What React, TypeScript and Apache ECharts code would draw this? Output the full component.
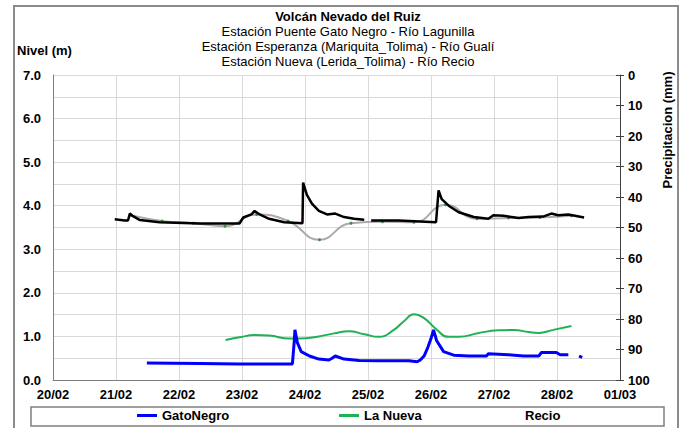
import React, { useEffect, useRef } from "react";
import * as echarts from "echarts";

const DAY_LABELS = ["20/02", "21/02", "22/02", "23/02", "24/02", "25/02", "26/02", "27/02", "28/02", "01/03"];

// time in days after 20/02 00:00
const gatoT = [1.49, 2.33, 2.96, 3.43, 3.8, 3.83, 3.84, 3.88, 3.94, 4.07, 4.22, 4.38, 4.43, 4.48, 4.62, 4.86, 5.17, 5.65, 5.78, 5.83, 5.89, 5.95, 6.0, 6.04, 6.09, 6.2, 6.36, 6.6, 6.88, 6.91, 7.23, 7.47, 7.71, 7.75, 7.99, 8.05, 8.18, 8.26, 8.35, 8.4];
const gatoV = [0.39, 0.38, 0.37, 0.37, 0.37, 0.9, 1.15, 0.85, 0.65, 0.55, 0.48, 0.46, 0.5, 0.55, 0.48, 0.45, 0.44, 0.44, 0.42, 0.46, 0.55, 0.75, 0.95, 1.15, 0.9, 0.65, 0.57, 0.55, 0.55, 0.6, 0.58, 0.55, 0.55, 0.63, 0.63, 0.58, 0.58, null, 0.55, 0.52];

const nuevaT = [2.74, 2.96, 3.2, 3.43, 3.75, 3.91, 4.22, 4.46, 4.7, 4.94, 5.17, 5.41, 5.57, 5.73, 5.89, 6.08, 6.28, 6.44, 6.76, 7.07, 7.31, 7.55, 7.71, 7.94, 8.23];
const nuevaV = [0.92, 0.98, 1.03, 1.02, 0.95, 0.95, 1.0, 1.07, 1.12, 1.05, 0.99, 1.15, 1.35, 1.51, 1.42, 1.17, 0.99, 0.99, 1.08, 1.14, 1.15, 1.1, 1.08, 1.15, 1.24];

const recioT = [0.98, 1.14, 1.19, 1.22, 1.27, 1.38, 1.69, 2.33, 2.96, 3.02, 3.15, 3.2, 3.28, 3.43, 3.67, 3.96, 3.97, 4.03, 4.11, 4.22, 4.35, 4.48, 4.62, 4.78, 4.94, 5.0, 5.05, 5.49, 6.08, 6.12, 6.17, 6.28, 6.44, 6.68, 6.91, 6.99, 7.15, 7.39, 7.55, 7.78, 7.91, 8.02, 8.18, 8.43];
const recioV = [3.69, 3.66, 3.66, 3.82, 3.76, 3.67, 3.62, 3.59, 3.59, 3.73, 3.8, 3.88, 3.8, 3.7, 3.62, 3.6, 4.53, 4.25, 4.05, 3.88, 3.8, 3.82, 3.74, 3.7, 3.68, null, 3.66, 3.66, 3.62, 4.35, 4.15, 4.0, 3.85, 3.74, 3.7, 3.78, 3.77, 3.72, 3.74, 3.75, 3.82, 3.78, 3.8, 3.73];

const trendT = [1.23, 1.73, 2.23, 2.73, 3.23, 3.73, 4.23, 4.73, 5.23, 5.73, 6.23, 6.73, 7.23, 7.73, 8.23];
const trendV = [3.78, 3.65, 3.6, 3.53, 3.8, 3.65, 3.22, 3.6, 3.63, 3.62, 4.02, 3.7, 3.72, 3.73, 3.77];

const FONT = "'Liberation Sans', Arial, sans-serif";

const pairs = (t: number[], v: (number | null)[]) => t.map((x, i) => [x, v[i]]);

export default function App() {
  const ref = useRef<HTMLDivElement>(null);
  useEffect(() => {
    if (!ref.current) return;
    const chart = echarts.init(ref.current, null, { renderer: "svg" });
    const legendBase = {
      top: 404,
      icon: "rect",
      itemWidth: 20,
      itemHeight: 3,
      itemGap: 5,
      selectedMode: false,
      textStyle: { color: "#000", fontWeight: "bold", fontSize: 13, fontFamily: FONT },
    };
    chart.setOption({
      animation: false,
      backgroundColor: "#fff",
      textStyle: { fontFamily: FONT },
      title: {
        left: 343,
        textAlign: "center",
        top: 5,
        text: "Volcán Nevado del Ruiz",
        textStyle: { fontSize: 13, fontWeight: "bold", color: "#000", fontFamily: FONT },
        subtext:
          "Estación Puente Gato Negro - Río Lagunilla\nEstación Esperanza (Mariquita_Tolima) - Río Gualí\nEstación Nueva (Lerida_Tolima) - Río Recio",
        subtextStyle: { fontSize: 13, color: "#000", lineHeight: 15, fontFamily: FONT },
        itemGap: 1,
      },
      grid: { left: 53, right: 65, top: 75, bottom: 48 },
      xAxis: {
        type: "value",
        min: 0,
        max: 9,
        interval: 1,
        axisLine: { show: true, lineStyle: { color: "#7f7f7f", width: 1 } },
        axisTick: { show: false },
        splitLine: { show: true, lineStyle: { color: "#d9d9d9", width: 1 } },
        axisLabel: {
          formatter: (v: number) => DAY_LABELS[Math.round(v)] ?? "",
          color: "#000",
          fontWeight: "bold",
          fontSize: 13,
          margin: 8,
          fontFamily: FONT,
        },
      },
      yAxis: [
        {
          type: "value",
          min: 0,
          max: 7,
          interval: 1,
          position: "left",
          axisLine: { show: true, lineStyle: { color: "#7f7f7f", width: 1 } },
          axisTick: { show: false },
          minorTick: { show: false, splitNumber: 2 },
          minorSplitLine: { show: true, lineStyle: { color: "#d9d9d9", width: 1 } },
          splitLine: { show: true, lineStyle: { color: "#d9d9d9", width: 1 } },
          axisLabel: {
            formatter: (v: number) => v.toFixed(1),
            color: "#000",
            fontWeight: "bold",
            fontSize: 13,
            margin: 12,
            fontFamily: FONT,
          },
        },
        {
          type: "value",
          min: 0,
          max: 100,
          interval: 10,
          inverse: true,
          position: "right",
          axisLine: { show: true, lineStyle: { color: "#404040", width: 1 } },
          axisTick: { show: true, inside: false, length: 4, lineStyle: { color: "#404040" } },
          splitLine: { show: false },
          axisLabel: {
            color: "#000",
            fontWeight: "bold",
            fontSize: 13,
            margin: 8,
            fontFamily: FONT,
          },
        },
        {
          type: "value",
          min: 0,
          max: 100,
          interval: 10,
          inverse: true,
          position: "right",
          axisLine: { show: false },
          axisTick: { show: true, inside: true, length: 4, lineStyle: { color: "#404040" } },
          splitLine: { show: false },
          axisLabel: { show: false },
        },
      ],
      legend: [
        { ...legendBase, left: 132, data: ["GatoNegro"] },
        { ...legendBase, left: 334, data: ["La Nueva"] },
        {
          ...legendBase,
          left: 495,
          data: [{ name: "Recio", itemStyle: { opacity: 0 }, lineStyle: { opacity: 0 } }],
        },
      ],
      graphic: [
        {
          type: "rect",
          shape: { x: 14, y: 6, width: 664, height: 440 },
          style: { fill: "none", stroke: "#8c8c8c", lineWidth: 2 },
          silent: true,
          z: -10,
        },
        {
          type: "rect",
          shape: { x: 31, y: 407, width: 633, height: 19 },
          style: { fill: "none", stroke: "#7f7f7f", lineWidth: 1.5 },
          silent: true,
        },
        {
          type: "text",
          x: 17,
          y: 50,
          style: {
            text: "Nivel (m)",
            fill: "#000",
            font: `bold 13px ${FONT}`,
            textVerticalAlign: "middle",
          },
        },
        {
          type: "text",
          x: 667,
          y: 130,
          rotation: Math.PI / 2,
          style: {
            text: "Precipitacion (mm)",
            fill: "#000",
            font: `bold 13px ${FONT}`,
            textAlign: "center",
            textVerticalAlign: "middle",
          },
        },
      ],
      series: [
        {
          name: "Tendencia",
          type: "line",
          yAxisIndex: 0,
          data: pairs(trendT, trendV),
          smooth: 0.5,
          symbol: "circle",
          symbolSize: 3,
          itemStyle: { color: "#3f8f3f" },
          lineStyle: { color: "#ababab", width: 2 },
          z: 2,
        },
        {
          name: "Recio",
          type: "line",
          yAxisIndex: 0,
          data: pairs(recioT, recioV),
          symbol: "none",
          connectNulls: false,
          lineStyle: { color: "#000", width: 2.5 },
          itemStyle: { color: "#000" },
          z: 3,
        },
        {
          name: "La Nueva",
          type: "line",
          yAxisIndex: 0,
          data: pairs(nuevaT, nuevaV),
          smooth: 0.5,
          symbol: "none",
          lineStyle: { color: "#1fb155", width: 2 },
          itemStyle: { color: "#1fb155" },
          z: 3,
        },
        {
          name: "GatoNegro",
          type: "line",
          yAxisIndex: 0,
          data: pairs(gatoT, gatoV),
          symbol: "none",
          connectNulls: false,
          lineStyle: { color: "#0000ff", width: 3 },
          itemStyle: { color: "#0000ff" },
          z: 4,
        },
      ],
    });
    return () => chart.dispose();
  }, []);
  return (
    <div
      ref={ref}
      style={{ position: "fixed", left: 0, top: 0, width: 685, height: 428, background: "#fff" }}
    />
  );
}
